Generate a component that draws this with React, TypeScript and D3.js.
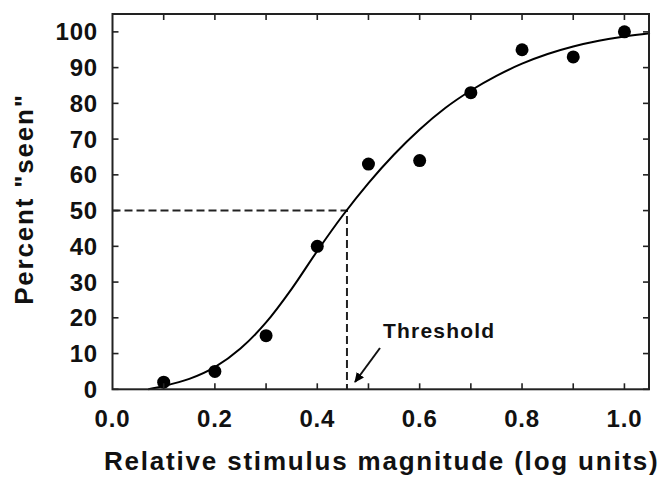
import React from "react";
import * as d3 from "d3";

const stimulus = [0.1, 0.2, 0.3, 0.4, 0.5, 0.6, 0.7, 0.8, 0.9, 1.0];
const percentSeen = [2, 5, 15, 40, 63, 64, 83, 95, 93, 100];

const fitX = [0.07, 0.1, 0.15, 0.2, 0.25, 0.3, 0.35, 0.4, 0.45, 0.5, 0.55, 0.6, 0.65, 0.7, 0.75, 0.8, 0.85, 0.9, 0.95, 1.0, 1.05];
const fitY = [0, 0.9, 2.9, 6.2, 11.4, 18.7, 28.1, 38.7, 48.7, 57.7, 65.7, 72.7, 78.7, 83.6, 87.7, 91.1, 93.8, 95.9, 97.5, 98.7, 99.6];

const xTickLabels = ["0.0", "0.2", "0.4", "0.6", "0.8", "1.0"];
const xTickValues = [0, 0.2, 0.4, 0.6, 0.8, 1.0];
const xMinorTicks = [0.1, 0.2, 0.3, 0.4, 0.5, 0.6, 0.7, 0.8, 0.9, 1.0];
const yTickValues = [0, 10, 20, 30, 40, 50, 60, 70, 80, 90, 100];

const thresholdX = 0.458;
const thresholdY = 50;

const W = 663, H = 477;
const L = 112.5, R = 649, T = 14, B = 389.3;

export default function App() {
  const x = d3.scaleLinear().domain([0, 1.048]).range([L, R]);
  const y = d3.scaleLinear().domain([0, 105]).range([B, T]);
  const line = d3
    .line<number>()
    .x((_, i) => x(fitX[i]))
    .y((d) => y(d))
    .curve(d3.curveMonotoneX);
  const font = "'Liberation Sans', Arial, Helvetica, sans-serif";
  const tickLen = 6;
  return (
    <svg width={W} height={H} style={{ position: "absolute", left: 0, top: 0, background: "#fff" }}>
      <defs>
        <marker id="ah" viewBox="0 0 10 10" refX="9" refY="5" markerWidth="5" markerHeight="5" orient="auto">
          <path d="M0,0.5 L10,5 L0,9.5 z" fill="#000" />
        </marker>
      </defs>
      {/* threshold dashed lines */}
      <path
        d={`M${x(0)},${y(thresholdY)} H${x(thresholdX)} V${y(0)}`}
        fill="none"
        stroke="#222"
        strokeWidth={2}
        strokeDasharray="8,4"
      />
      {/* fitted curve */}
      <path d={line(fitY) || ""} fill="none" stroke="#000" strokeWidth={2} />
      {/* points */}
      {stimulus.map((s, i) => (
        <circle key={i} cx={x(s)} cy={y(percentSeen[i])} r={6.5} fill="#000" />
      ))}
      {/* frame */}
      <rect x={L} y={T} width={R - L} height={B - T} fill="none" stroke="#222" strokeWidth={2} />
      {/* ticks */}
      {xMinorTicks.map((t) => (
        <g key={"xt" + t}>
          <line x1={x(t)} x2={x(t)} y1={B} y2={B - tickLen} stroke="#222" strokeWidth={1.6} />
          <line x1={x(t)} x2={x(t)} y1={T} y2={T + tickLen} stroke="#222" strokeWidth={1.6} />
        </g>
      ))}
      {yTickValues.map((t) => (
        <g key={"yt" + t}>
          <line x1={L} x2={L + tickLen} y1={y(t)} y2={y(t)} stroke="#222" strokeWidth={1.6} />
          <line x1={R} x2={R - tickLen} y1={y(t)} y2={y(t)} stroke="#222" strokeWidth={1.6} />
        </g>
      ))}
      {/* tick labels */}
      {xTickValues.map((t, i) => (
        <text
          key={"xl" + t}
          x={x(t)}
          y={427}
          textAnchor="middle"
          fontFamily={font}
          fontWeight="bold"
          fontSize={24}
          letterSpacing={0.8}
          fill="#111"
        >
          {xTickLabels[i]}
        </text>
      ))}
      {yTickValues.map((t) => (
        <text
          key={"yl" + t}
          x={98}
          y={y(t) + 8.5}
          textAnchor="end"
          fontFamily={font}
          fontWeight="bold"
          fontSize={24}
          letterSpacing={0.8}
          fill="#111"
        >
          {t}
        </text>
      ))}
      {/* axis titles */}
      <text
        x={104}
        y={470}
        fontFamily={font}
        fontWeight="bold"
        fontSize={26}
        letterSpacing={1.8}
        fill="#111"
      >
        Relative stimulus magnitude (log units)
      </text>
      <text
        transform="translate(33,199) rotate(-90)"
        textAnchor="middle"
        fontFamily={font}
        fontWeight="bold"
        fontSize={26}
        letterSpacing={1.8}
        fill="#111"
      >
        Percent "seen"
      </text>
      {/* threshold annotation */}
      <text x={383} y={338} fontFamily={font} fontWeight="bold" fontSize={21} letterSpacing={1.2} fill="#111">
        Threshold
      </text>
      <line x1={380} y1={348} x2={355} y2={382} stroke="#111" strokeWidth={2} markerEnd="url(#ah)" />
    </svg>
  );
}
